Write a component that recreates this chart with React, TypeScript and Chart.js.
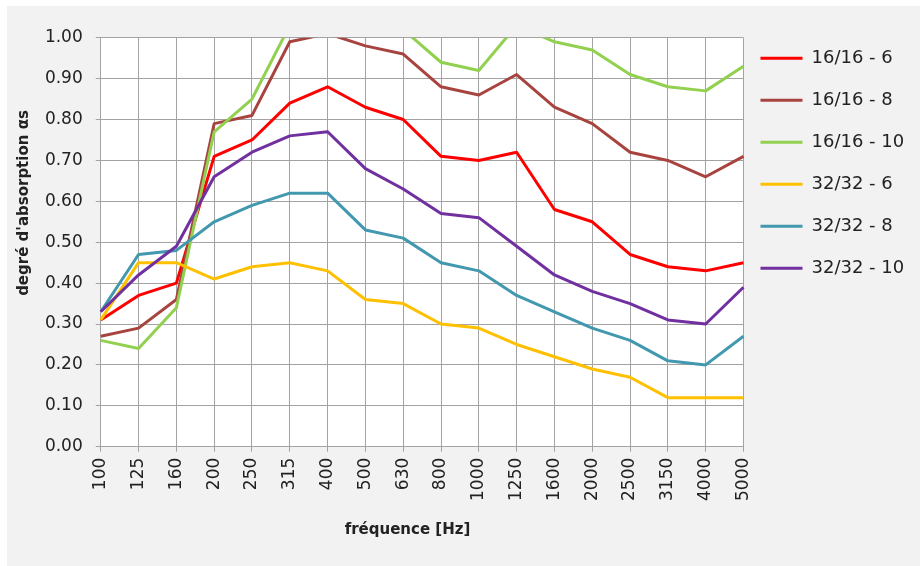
import React, { useEffect, useRef } from 'react';
import { Chart, registerables } from 'chart.js';

Chart.register(...registerables);

// ---- data ----
const frequencies = ['100', '125', '160', '200', '250', '315', '400', '500', '630', '800', '1000', '1250', '1600', '2000', '2500', '3150', '4000', '5000'];

const s16_6 = [0.31, 0.37, 0.40, 0.71, 0.75, 0.84, 0.88, 0.83, 0.80, 0.71, 0.70, 0.72, 0.58, 0.55, 0.47, 0.44, 0.43, 0.45];
const s16_8 = [0.27, 0.29, 0.36, 0.79, 0.81, 0.99, 1.01, 0.98, 0.96, 0.88, 0.86, 0.91, 0.83, 0.79, 0.72, 0.70, 0.66, 0.71];
const s16_10 = [0.26, 0.24, 0.34, 0.77, 0.85, 1.03, 1.05, 1.04, 1.02, 0.94, 0.92, 1.03, 0.99, 0.97, 0.91, 0.88, 0.87, 0.93];
const s32_6 = [0.31, 0.45, 0.45, 0.41, 0.44, 0.45, 0.43, 0.36, 0.35, 0.30, 0.29, 0.25, 0.22, 0.19, 0.17, 0.12, 0.12, 0.12];
const s32_8 = [0.33, 0.47, 0.48, 0.55, 0.59, 0.62, 0.62, 0.53, 0.51, 0.45, 0.43, 0.37, 0.33, 0.29, 0.26, 0.21, 0.20, 0.27];
const s32_10 = [0.33, 0.42, 0.49, 0.66, 0.72, 0.76, 0.77, 0.68, 0.63, 0.57, 0.56, 0.49, 0.42, 0.38, 0.35, 0.31, 0.30, 0.39];

const seriesLabels = ['16/16 - 6', '16/16 - 8', '16/16 - 10', '32/32 - 6', '32/32 - 8', '32/32 - 10'];
const seriesValues = [s16_6, s16_8, s16_10, s32_6, s32_8, s32_10];
const seriesColors = ['#ff0000', '#a8443f', '#92d050', '#ffc000', '#4198af', '#7030a0'];

const yMin = 0;
const yMax = 1;
const yStep = 0.1;

const xTitle = 'fréquence [Hz]';
const yTitle = "degré d'absorption αs";

// ---- styles ----
const gridColor = '#a3a3a3';
const textColor = '#222222';
const fontFamily = '"DejaVu Sans", "Liberation Sans", sans-serif';

const plotBackground = {
  id: 'plotBackground',
  beforeDraw(chart: any) {
    const { ctx, chartArea: a } = chart;
    ctx.save();
    ctx.fillStyle = '#ffffff';
    ctx.fillRect(a.left, a.top, a.right - a.left, a.bottom - a.top);
    ctx.restore();
  },
};

const axisTitles = {
  id: 'axisTitles',
  afterDraw(chart: any, _args: any, opts: any) {
    const { ctx } = chart;
    ctx.save();
    ctx.font = `bold 15px ${fontFamily}`;
    ctx.fillStyle = textColor;
    ctx.textAlign = 'center';
    ctx.textBaseline = 'middle';
    ctx.fillText(opts.xText, opts.xPos[0], opts.xPos[1]);
    ctx.translate(opts.yPos[0], opts.yPos[1]);
    ctx.rotate(-Math.PI / 2);
    ctx.fillText(opts.yText, 0, 0);
    ctx.restore();
  },
};

export default function App() {
  const canvasRef = useRef<HTMLCanvasElement | null>(null);

  useEffect(() => {
    if (!canvasRef.current) return;
    const datasets = seriesValues.map((vals, i) => ({
      label: seriesLabels[i],
      data: vals,
      borderColor: seriesColors[i],
      backgroundColor: seriesColors[i],
      borderWidth: 3,
      pointRadius: 0,
      pointHoverRadius: 0,
      tension: 0,
      fill: false,
      borderJoinStyle: 'round' as const,
      order: -i,
    }));

    const chart = new Chart(canvasRef.current, {
      type: 'line',
      data: { labels: frequencies, datasets },
      plugins: [plotBackground, axisTitles],
      options: {
        animation: false,
        responsive: false,
        layout: { padding: { top: 26.3, left: 24.9, right: 5.8, bottom: 59 } },
        scales: {
          x: {
            type: 'category',
            grid: { color: gridColor, lineWidth: 1, tickLength: 5, drawTicks: true },
            border: { color: gridColor, width: 1 },
            ticks: {
              color: textColor,
              font: { family: fontFamily, size: 17 },
              maxRotation: 90,
              minRotation: 90,
              autoSkip: false,
              padding: 6,
            },
          },
          y: {
            min: yMin,
            max: yMax,
            grid: { color: gridColor, lineWidth: 1, tickLength: 5, drawTicks: true },
            border: { color: gridColor, width: 1 },
            ticks: {
              stepSize: yStep,
              color: textColor,
              font: { family: fontFamily, size: 17 },
              padding: 13,
              callback: (v: any) => Number(v).toFixed(2),
            },
          },
        },
        plugins: {
          title: {
            display: true,
            text: '',
            fullSize: false,
            position: 'top',
            padding: 0,
            font: { size: 5, lineHeight: '5.4px' },
          },
          legend: {
            position: 'right',
            align: 'start',
            fullSize: true,
            labels: {
              usePointStyle: true,
              pointStyle: 'line',
              pointStyleWidth: 42,
              padding: 17,
              color: textColor,
              font: { family: fontFamily, size: 18, lineHeight: '25px' },
              generateLabels: (c: any) =>
                (Chart.defaults.plugins.legend.labels.generateLabels as any)(c).map((l: any) => ({
                  ...l,
                  text: [l.text],
                  pointStyle: 'line',
                  lineWidth: 3,
                })),
              sort: (a: any, b: any) => a.datasetIndex - b.datasetIndex,
            },
          },
          tooltip: { enabled: false },
          axisTitles: {
            xText: xTitle,
            yText: yTitle,
            xPos: [400.5, 524.5],
            yPos: [17.5, 197],
          },
        } as any,
      },
    });
    return () => chart.destroy();
  }, []);

  return (
    <div style={{ position: 'absolute', left: 0, top: 0, width: 920, height: 566, background: '#ffffff' }}>
      <div style={{ position: 'absolute', left: 7, top: 6, width: 913, height: 560, background: '#f2f2f2' }}>
        <canvas ref={canvasRef} width={913} height={560} style={{ display: 'block', width: 913, height: 560 }} />
      </div>
    </div>
  );
}
